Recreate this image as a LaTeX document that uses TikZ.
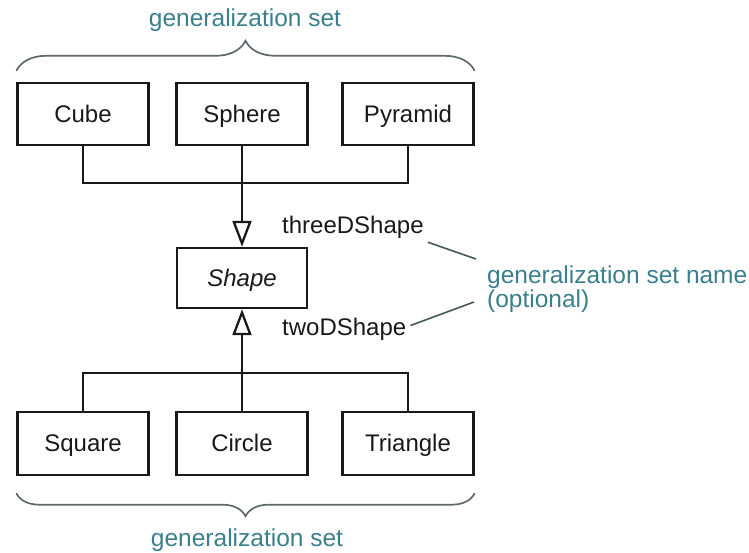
\documentclass[tikz,border=0pt]{standalone}
\usepackage{fontspec}
\setmainfont{Liberation Sans}
\usetikzlibrary{arrows.meta,decorations.pathreplacing}

\definecolor{noteteal}{RGB}{58,128,140}
\definecolor{bracegray}{RGB}{95,105,108}
\definecolor{leadgray}{RGB}{70,88,92}
\definecolor{ink}{RGB}{25,25,25}

\tikzset{
  classbox/.style={draw=ink, line width=2.4pt, minimum width=131pt, minimum height=62pt,
    inner sep=0pt, text height=16pt, text depth=0pt,
    font=\fontsize{24}{29}\selectfont, text=ink},
  wire/.style={draw=ink, line width=2.3pt},
  genarrow/.style={wire, -{Triangle[open, length=26pt, width=19pt, line width=2.3pt]}},
  setlabel/.style={inner sep=0pt, text height=18pt, text depth=5pt,
    font=\fontsize{24}{29}\selectfont, text=ink},
  notetext/.style={inner sep=0pt, font=\fontsize{24.5}{18}\selectfont, text=noteteal, align=left},
  setbrace/.style={draw=bracegray, line width=1.7pt, decorate},
  leader/.style={draw=leadgray, line width=1.6pt}
}

\begin{document}
\begin{tikzpicture}[x=1pt, y=-1pt]
  \useasboundingbox (0,0) rectangle (749,552);

  % three-dimensional subclasses
  \node[classbox] (cube)    at (83,114)  {Cube};
  \node[classbox] (sphere)  at (242,114) {Sphere};
  \node[classbox] (pyramid) at (408,114) {Pyramid};

  % superclass
  \node[classbox, minimum width=130pt, minimum height=60pt,
        font=\fontsize{24}{29}\selectfont\itshape] (shape) at (242,278) {Shape};

  % two-dimensional subclasses
  \node[classbox, minimum height=63pt] (square)   at (83,443.5)  {Square};
  \node[classbox, minimum height=63pt] (circle)   at (242,443.5) {Circle};
  \node[classbox, minimum height=63pt] (triangle) at (408,443.5) {Triangle};

  % generalization trees
  \coordinate (jtop) at (242,183);
  \coordinate (jbot) at (242,373);
  \draw[wire] (cube.south) |- (jtop) -| (pyramid.south);
  \draw[genarrow] (sphere.south) -- (shape.north);
  \draw[wire] (square.north) |- (jbot) -| (triangle.north);
  \draw[genarrow] (circle.north) -- (shape.south);

  % generalization set names
  \node[setlabel, anchor=base west] (three) at (282,233) {threeDShape};
  \node[setlabel, anchor=base west] (two)   at (282,335) {twoDShape};

  % annotation (anchored on the baseline of its last line)
  \node[notetext, anchor=base west] (note) at (487,307) {generalization set name\\(optional)};
  \draw[leader] ([shift={(4pt,-4pt)}]three.south east) -- ([shift={(-11pt,48pt)}]note.base west);
  \draw[leader] ([shift={(4pt,3pt)}]two.east) -- ([shift={(-13pt,5pt)}]note.base west);

  % braces around each generalization set
  \draw[setbrace, decoration={brace, amplitude=30pt}]
    ([yshift=11pt]cube.north west) -- ([yshift=11pt]pyramid.north east);
  \node[notetext, anchor=center] (toplabel) at (245,20) {generalization set};
  \draw[setbrace, decoration={brace, mirror, amplitude=23pt}]
    ([yshift=-17pt]square.south west) -- ([yshift=-17pt]triangle.south east);
  \node[notetext, anchor=center] (botlabel) at (247,540) {generalization set};
\end{tikzpicture}
\end{document}
